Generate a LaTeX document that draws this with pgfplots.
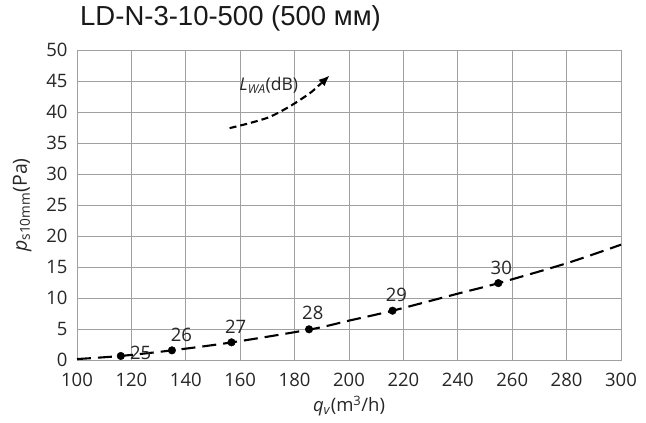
\documentclass[border=0pt]{standalone}
\usepackage{pgfplots}
\pgfplotsset{compat=1.18}
\usepackage{fontspec}
\setmainfont{Open Sans}
\newfontfamily\titlefont{Liberation Sans}
\usetikzlibrary{arrows.meta}
\definecolor{gridgray}{HTML}{A0A0A0}
\begin{document}
\begin{tikzpicture}
\useasboundingbox (0,0) rectangle (646bp,423bp);
\begin{axis}[
  at={(77bp,63bp)}, anchor=south west,
  scale only axis, width=544bp, height=310bp,
  xmin=100, xmax=300, ymin=0, ymax=50,
  xtick={100,120,...,300}, ytick={0,5,...,50},
  grid=major,
  major grid style={gridgray, line width=0.9bp},
  axis line style={gridgray, line width=0.9bp},
  major tick length=0pt,
  /pgf/number format/assume math mode=true,
  /pgf/number format/1000 sep={},
  ticklabel style={font=\fontsize{18.5bp}{22bp}\selectfont, text=black!85},
  xticklabel style={yshift=-10bp},
  yticklabel style={xshift=-6bp},
  xlabel={\fontsize{18.5bp}{22bp}\selectfont\textit{q}\textsubscript{\textit{v}}(m\textsuperscript{3}/h)},
  ylabel={\fontsize{19.5bp}{22bp}\selectfont\textit{p}\textsubscript{s10mm}(Pa)},
  label style={text=black!85},
  xlabel style={yshift=-2bp},
  ylabel style={yshift=8bp},
  title={\fontsize{27.5bp}{30bp}\selectfont\titlefont LD-N-3-10-500 (500 мм)},
  title style={at={(rel axis cs:0,1)}, anchor=base west, xshift=3bp, yshift=19bp,
    text=black!90, inner sep=0pt},
  clip=false,
]
\addplot[black, line width=2.1bp, dash pattern=on 14bp off 7bp, smooth, tension=0.5]
  coordinates {(100,0.15) (116,0.65) (135,1.56) (157,2.85) (186,4.95) (200,6.35) (216,7.95) (240,10.7) (255,12.4) (280,15.6) (300,18.6)};
\addplot[only marks, mark=*, mark size=3.8bp, black]
  coordinates {(116.1,0.65) (134.9,1.56) (156.8,2.85) (185.3,4.95) (216,7.95) (254.9,12.4)};
\addplot[black, line width=2.1bp, dash pattern=on 7bp off 4bp, smooth, tension=0.5,
  -{Latex[length=11bp,width=9bp]}]
  coordinates {(156.1,37.4) (163.4,38.2) (170.8,39.2) (178.2,40.9) (185.5,43.0) (189.2,44.4) (192.9,45.9)};
\node[font=\fontsize{17.5bp}{20bp}\selectfont, text=black!85, anchor=base] at (axis cs:170.5,43.4)
  {\textit{L}\textsubscript{\textit{WA}}(dB)};
\begin{scope}[every node/.style={font=\fontsize{18.5bp}{22bp}\selectfont, text=black!85, inner sep=0pt}]
\node at (axis cs:123.4,1.1) {25};
\node at (axis cs:138.4,4.0) {26};
\node at (axis cs:158.3,5.3) {27};
\node at (axis cs:186.7,7.6) {28};
\node at (axis cs:217.4,10.5) {29};
\node at (axis cs:256,14.9) {30};
\end{scope}
\end{axis}
\end{tikzpicture}
\end{document}
